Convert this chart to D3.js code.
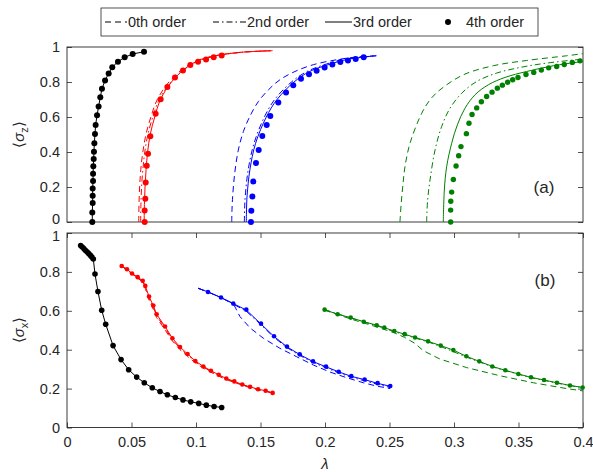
<!DOCTYPE html>
<html><head><meta charset="utf-8">
<script src="https://cdn.jsdelivr.net/npm/d3@7"></script>
<style>
body{margin:0;background:#fff}
text{font-family:"Liberation Sans",Arial,Helvetica,sans-serif;fill:#262626}
</style>
</head><body><svg id="c" width="593" height="472"></svg>
<script>
// ---------- data ----------
const xTickValues = [0,0.05,0.1,0.15,0.2,0.25,0.3,0.35,0.4];
const xTickLabels = ["0","0.05","0.1","0.15","0.2","0.25","0.3","0.35","0.4"];
const yTickValues = [0,0.2,0.4,0.6,0.8,1];
const yTickLabels = ["0","0.2","0.4","0.6","0.8","1"];
const legendLabels = ["0th order","2nd order","3rd order","4th order"];

// Panel (a): <sigma_z> vs lambda
const aBlack4L = [.0196,.0196,.0199,.0199,.0199,.0202,.0202,.0204,.0207,.0209,.0212,.0217,.0222,.0233,.0245,.0258,.0271,.0295,.0323,.0351,.0395,.0447,.0509,.0597];
const aBlack4V = [0,.054,.108,.150,.192,.234,.276,.318,.360,.402,.450,.503,.555,.610,.660,.713,.761,.809,.849,.885,.916,.941,.960,.973];

const aRed0 = [[.0556,0],[.0558,.1],[.0563,.2],[.0572,.3],[.0588,.4],[.0612,.5],[.0650,.6],[.0700,.7],[.0790,.8],[.0890,.87],[.1000,.92],[.1150,.95],[.1350,.97],[.1594,.979]];
const aRed2 = [[.0571,0],[.0573,.1],[.0578,.2],[.0588,.3],[.0603,.4],[.0627,.5],[.0665,.6],[.0715,.7],[.0805,.8],[.0905,.87],[.1015,.92],[.1160,.95],[.1360,.97],[.1594,.979]];
const aRed3 = [[.0598,0],[.0600,.1],[.0605,.2],[.0613,.3],[.0625,.4],[.0645,.5],[.0680,.6],[.0725,.7],[.0810,.8],[.0905,.87],[.1010,.92],[.1150,.95],[.1350,.97],[.1594,.979]];
const aRed4L = [.0602,.0602,.0607,.0610,.0618,.0628,.0646,.0687,.0726,.0778,.0837,.0899,.0956,.1016,.1078,.1137,.1199];
const aRed4V = [0,.066,.133,.226,.322,.390,.490,.618,.702,.771,.826,.866,.897,.916,.929,.942,.952];

const aBlue0 = [[.1277,0],[.1279,.07],[.1284,.144],[.1300,.278],[.1328,.411],[.1367,.516],[.1419,.606],[.1483,.688],[.1561,.755],[.1651,.813],[.1767,.860],[.1910,.899],[.2090,.927],[.2245,.943],[.2400,.950]];
const aBlue2 = [[.1375,0],[.1377,.08],[.1382,.15],[.1405,.3],[.1450,.45],[.1530,.6],[.1610,.7],[.1740,.8],[.1860,.86],[.2000,.9],[.2150,.93],[.2400,.95]];
const aBlue3 = [[.1390,0],[.1392,.08],[.1396,.15],[.1418,.3],[.1462,.45],[.1545,.6],[.1628,.7],[.1760,.8],[.1880,.86],[.2030,.9],[.2180,.93],[.2400,.95]];
const aBlue4L = [.1426,.1429,.1437,.1444,.1465,.1486,.1514,.1548,.1576,.1638,.1698,.1754,.1814,.1876,.1935,.1997,.2057,.2119,.2178,.2238,.2300];
const aBlue4V = [0,.064,.146,.232,.337,.411,.492,.555,.606,.683,.740,.782,.818,.845,.864,.883,.900,.914,.923,.931,.941];

const aGreen0 = [[.2581,0],[.2590,.1],[.2605,.22],[.2620,.316],[.2659,.450],[.2750,.622],[.2814,.698],[.2891,.755],[.3072,.841],[.3305,.893],[.3563,.923],[.3874,.950],[.4000,.962]];
const aGreen2 = [[.2788,0],[.2795,.12],[.2814,.240],[.2853,.411],[.2904,.545],[.2969,.650],[.3060,.736],[.3176,.803],[.3331,.851],[.3512,.883],[.3718,.908],[.4000,.931]];
const aGreen3 = [[.2917,0],[.2925,.182],[.2943,.316],[.2982,.450],[.3026,.555],[.3085,.650],[.3163,.727],[.3266,.784],[.3395,.826],[.3563,.860],[.3770,.893],[.4000,.917]];
const aGreen4L = [.2974,.2974,.2975,.2982,.2995,.3016,.3036,.3054,.3096,.3116,.3140,.3176,.3212,.3253,.3295,.3336,.3375,.3416,.3455,.3496,.3558,.3618,.3677,.3734,.3796,.3855,.3917,.3977];
const aGreen4V = [0,.068,.119,.171,.243,.320,.379,.431,.505,.564,.614,.652,.687,.717,.742,.765,.782,.799,.813,.826,.843,.855,.868,.881,.889,.900,.912,.921];

// Panel (b): <sigma_x> vs lambda
const bBlack4L = [.0106,.0118,.0130,.0142,.0155,.0167,.0180,.0192,.0204,.0217,.0240,.0269,.0300,.0357,.0419,.0478,.0540,.0599,.0661,.0721,.0778,.0840,.0899,.0959,.1021,.1080,.1140,.1199];
const bBlack4V = [.936,.928,.920,.911,.903,.895,.886,.877,.866,.789,.699,.603,.531,.421,.349,.297,.259,.230,.204,.185,.168,.154,.142,.132,.124,.115,.108,.103];

const bRed0 = [[.0424,.830],[.0504,.790],[.0587,.748],[.0607,.715],[.0636,.655],[.0669,.607],[.0695,.565],[.0760,.502],[.0817,.445],[.0876,.400],[.0935,.365],[.0995,.332],[.1057,.305],[.1116,.284],[.1176,.264],[.1235,.246],[.1297,.232],[.1359,.217],[.1419,.205],[.1481,.194],[.1540,.186],[.1594,.176]];
const bRed2 = [[.0424,.830],[.0504,.791],[.0587,.751],[.0607,.722],[.0636,.665],[.0669,.618],[.0695,.574],[.0760,.511],[.0817,.452],[.0876,.407],[.0935,.372],[.0995,.337],[.1057,.310],[.1116,.288],[.1176,.268],[.1235,.249],[.1297,.235],[.1359,.219],[.1419,.207],[.1481,.196],[.1540,.188],[.1594,.177]];
const bRed3 = [[.0424,.830],[.0465,.814],[.0504,.792],[.0548,.773],[.0587,.754],[.0607,.728],[.0636,.673],[.0669,.627],[.0695,.582],[.0760,.519],[.0817,.459],[.0876,.414],[.0935,.378],[.0995,.342],[.1057,.314],[.1116,.292],[.1176,.271],[.1235,.252],[.1297,.237],[.1359,.221],[.1419,.209],[.1481,.197],[.1540,.189],[.1594,.178]];
const bRed4L = [.0424,.0465,.0504,.0548,.0587,.0607,.0636,.0669,.0695,.0760,.0817,.0876,.0935,.0995,.1057,.1116,.1176,.1235,.1297,.1359,.1419,.1481,.1540,.1594];
const bRed4V = [.830,.814,.792,.773,.754,.728,.673,.627,.582,.519,.459,.414,.378,.342,.314,.292,.271,.252,.237,.221,.209,.197,.189,.178];

const bBlue0 = [[.1016,.716],[.1093,.697],[.1194,.668],[.1289,.637],[.1341,.570],[.1419,.512],[.1522,.459],[.1651,.407],[.1780,.364],[.1910,.321],[.2039,.285],[.2168,.256],[.2297,.230],[.2400,.213],[.2506,.200]];
const bBlue2 = [[.1016,.716],[.1093,.697],[.1194,.668],[.1289,.634],[.1390,.598],[.1504,.528],[.1605,.463],[.1705,.411],[.1804,.371],[.1907,.334],[.2008,.307],[.2106,.281],[.2204,.258],[.2307,.240],[.2408,.222],[.2506,.206]];
const bBlue3 = [[.1016,.716],[.1093,.697],[.1194,.668],[.1289,.637],[.1390,.604],[.1504,.532],[.1605,.468],[.1705,.415],[.1804,.375],[.1907,.339],[.2008,.312],[.2106,.286],[.2204,.263],[.2307,.246],[.2408,.227],[.2506,.212]];
const bBlue4L = [.1093,.1194,.1289,.1390,.1504,.1605,.1705,.1804,.1907,.2008,.2106,.2204,.2307,.2408,.2506];
const bBlue4V = [.697,.668,.637,.606,.534,.469,.416,.376,.340,.313,.287,.264,.247,.228,.213];

const bGreen0 = [[.1997,.603],[.2199,.558],[.2401,.517],[.2537,.487],[.2618,.463],[.2698,.432],[.2762,.395],[.2891,.352],[.3098,.308],[.3357,.266],[.3615,.230],[.3874,.200],[.4000,.188]];
const bGreen2 = [[.1997,.606],[.2199,.563],[.2401,.523],[.2537,.493],[.2698,.460],[.2799,.440],[.2897,.416],[.2995,.390],[.3096,.362],[.3196,.337],[.3297,.312],[.3398,.292],[.3597,.256],[.3798,.228],[.3997,.204]];
const bGreen3 = [[.1997,.606],[.2098,.582],[.2199,.565],[.2300,.544],[.2401,.526],[.2537,.496],[.2698,.463],[.2799,.443],[.2897,.421],[.2995,.398],[.3096,.366],[.3196,.340],[.3297,.314],[.3398,.294],[.3499,.275],[.3597,.258],[.3698,.244],[.3798,.230],[.3899,.216],[.4000,.206]];
const bGreen4L = [.1997,.2098,.2199,.2300,.2401,.2460,.2537,.2618,.2698,.2799,.2897,.2995,.3096,.3196,.3297,.3398,.3499,.3597,.3698,.3798,.3899,.3997];
const bGreen4V = [.606,.582,.565,.544,.526,.514,.496,.480,.463,.443,.421,.398,.366,.340,.314,.294,.275,.258,.244,.230,.216,.206];

// ---------- drawing ----------
const svg = d3.select("#c");
const x = d3.scaleLinear().domain([0,0.4]).range([67,583]);
const ya = d3.scaleLinear().domain([0,1]).range([222,47]);
const yb = d3.scaleLinear().domain([0,1]).range([427.5,233]);
const AX = "#262626";
const colors = {k:"#000000", r:"#ff0000", b:"#0000ff", g:"#008000"};
const dash0 = "6,4", dash2 = "6,3,1.5,3";

function frame(y, showX, edgeShift){
  const g = svg.append("g");
  const yl = g.append("g").attr("transform",`translate(${x.range()[0]},0)`)
    .call(d3.axisLeft(y).tickValues(yTickValues).tickFormat((d,i)=>yTickLabels[i]).tickSizeInner(-5).tickSizeOuter(0).tickPadding(7));
  const yr = g.append("g").attr("transform",`translate(${x.range()[1]},0)`)
    .call(d3.axisRight(y).tickValues(yTickValues).tickFormat("").tickSizeInner(-5).tickSizeOuter(0));
  const axes=[yl,yr];
  if(showX){
    const xb = g.append("g").attr("transform",`translate(0,${y.range()[0]})`)
      .call(d3.axisBottom(x).tickValues(xTickValues).tickFormat((d,i)=>xTickLabels[i]).tickSizeInner(-5).tickSizeOuter(0).tickPadding(9));
    const xt = g.append("g").attr("transform",`translate(0,${y.range()[1]})`)
      .call(d3.axisTop(x).tickValues(xTickValues).tickFormat("").tickSizeInner(-5).tickSizeOuter(0));
    axes.push(xb,xt);
  }
  axes.forEach(a=>{
    a.select(".domain").remove();
    a.selectAll("line").attr("stroke",AX).attr("stroke-width",0.8);
    a.selectAll("text").attr("font-size",14.5).attr("fill",AX).style("font-family","'Liberation Sans',Arial,sans-serif");
  });
  // nudge the label that sits next to the other panel, so the two do not collide
  yl.selectAll(".tick").filter(d=>d===edgeShift.v).select("text").attr("dy",edgeShift.dy);
  g.append("rect").attr("x",x.range()[0]).attr("y",y.range()[1])
    .attr("width",x.range()[1]-x.range()[0]).attr("height",y.range()[0]-y.range()[1])
    .attr("fill","none").attr("stroke",AX).attr("stroke-width",0.9);
}

function curve(y, pts, col, dash, smooth){
  const ln = d3.line().x(d=>x(d[0])).y(d=>y(d[1]));
  if(smooth) ln.curve(d3.curveCatmullRom.alpha(0.5));
  svg.append("path").datum(pts).attr("d",ln).attr("fill","none")
    .attr("stroke",col).attr("stroke-width",1).attr("stroke-dasharray",dash||null);
}
function dots(y, L, V, col, r, withLine){
  const pts = L.map((l,i)=>[l,V[i]]);
  if(withLine) curve(y, pts, col, null, false);
  svg.append("g").selectAll("circle").data(pts).join("circle")
    .attr("cx",d=>x(d[0])).attr("cy",d=>y(d[1])).attr("r",r).attr("fill",col);
}

frame(ya,false,{v:0,dy:"0.1em"});
frame(yb,true,{v:1,dy:"0.5em"});

// panel a
dots(ya, aBlack4L, aBlack4V, colors.k, 3, true);
curve(ya, aRed0, colors.r, dash0, true);
curve(ya, aRed2, colors.r, dash2, true);
curve(ya, aRed3, colors.r, null, true);
dots(ya, aRed4L, aRed4V, colors.r, 3, false);
curve(ya, aBlue0, colors.b, dash0, true);
curve(ya, aBlue2, colors.b, dash2, true);
curve(ya, aBlue3, colors.b, null, true);
dots(ya, aBlue4L, aBlue4V, colors.b, 3, false);
curve(ya, aGreen0, colors.g, dash0, true);
curve(ya, aGreen2, colors.g, dash2, true);
curve(ya, aGreen3, colors.g, null, true);
dots(ya, aGreen4L, aGreen4V, colors.g, 2.7, false);

// panel b
dots(yb, bBlack4L, bBlack4V, colors.k, 2.8, true);
curve(yb, bRed0, colors.r, dash0, false);
curve(yb, bRed2, colors.r, dash2, false);
curve(yb, bRed3, colors.r, null, false);
dots(yb, bRed4L, bRed4V, colors.r, 2.3, false);
curve(yb, bBlue0, colors.b, dash0, false);
curve(yb, bBlue2, colors.b, dash2, false);
curve(yb, bBlue3, colors.b, null, false);
dots(yb, bBlue4L, bBlue4V, colors.b, 2.3, false);
curve(yb, bGreen0, colors.g, dash0, false);
curve(yb, bGreen2, colors.g, dash2, false);
curve(yb, bGreen3, colors.g, null, false);
dots(yb, bGreen4L, bGreen4V, colors.g, 2.3, false);

// panel letters
svg.append("text").attr("x",544).attr("y",193).attr("text-anchor","middle").attr("font-size",17).attr("fill","#000").text("(a)");
svg.append("text").attr("x",545).attr("y",286).attr("text-anchor","middle").attr("font-size",17).attr("fill","#000").text("(b)");

// y labels
function ylab(cy, sub){
  const t = svg.append("text").attr("transform",`translate(24,${cy}) rotate(-90)`).attr("text-anchor","middle").attr("font-size",15);
  t.append("tspan").text("\u27E8");
  t.append("tspan").attr("font-style","italic").text("\u03C3");
  t.append("tspan").attr("font-size",11).attr("dy",4).text(sub);
  t.append("tspan").attr("dy",-4).text("\u27E9");
}
ylab(134.5,"z");
ylab(330,"x");
// x label
svg.append("text").attr("x",325).attr("y",469).attr("text-anchor","middle").attr("font-size",15).attr("font-style","italic").text("\u03BB");

// legend
const lg = svg.append("g");
lg.append("rect").attr("x",101).attr("y",8).attr("width",437).attr("height",28).attr("fill","#fff").attr("stroke",AX).attr("stroke-width",0.8);
const ly = 22;
const items = [
  {x0:105,x1:127,tx:128,dash:dash0,type:"line"},
  {x0:213,x1:246,tx:247,dash:dash2,type:"line"},
  {x0:325,x1:352,tx:353,dash:null,type:"line"},
  {x0:448,x1:448,tx:466,dash:null,type:"dot"}
];
items.forEach((it,i)=>{
  if(it.type==="line"){
    lg.append("line").attr("x1",it.x0).attr("x2",it.x1).attr("y1",ly).attr("y2",ly).attr("stroke","#000").attr("stroke-width",1).attr("stroke-dasharray",it.dash);
  } else {
    lg.append("circle").attr("cx",it.x0).attr("cy",ly).attr("r",3).attr("fill","#000");
  }
  lg.append("text").attr("x",it.tx).attr("y",ly+5).attr("font-size",14.5).attr("fill","#000").text(legendLabels[i]);
});
</script>
</body></html>
